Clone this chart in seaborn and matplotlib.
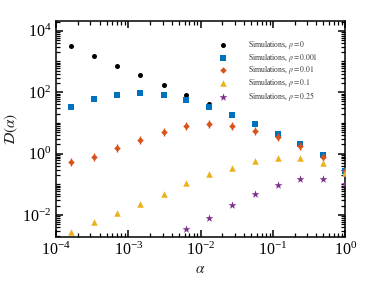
import matplotlib
matplotlib.use("Agg")
import matplotlib.pyplot as plt
import pandas as pd
import seaborn as sns
from matplotlib.ticker import FixedLocator, NullFormatter

# data
alpha = [1.6e-4, 3.4e-4, 7.0e-4, 1.45e-3, 3.1e-3, 6.3e-3, 1.3e-2,
         2.7e-2, 5.6e-2, 0.117, 0.24, 0.5, 1.0]
d_rho0 = [3200, 1500, 730, 360, 170, 83, 41, 20, 9.0, 4.3, 2.0, 0.85, 0.26]
d_rho0001 = [32, 59, 83, 95, 83, 54, 33, 18, 9.1, 4.2, 2.0, 0.87, 0.28]
d_rho001 = [0.54, 0.79, 1.55, 2.8, 5.0, 8.1, 8.9, 8.1, 5.5, 3.5, 1.8, 0.79, 0.27]
d_rho01 = [0.0028, 0.0059, 0.0117, 0.0236, 0.049, 0.112, 0.224, 0.35,
           0.56, 0.72, 0.72, 0.49, 0.23]
alpha_rho025 = alpha[5:]
d_rho025 = [0.0035, 0.0081, 0.0204, 0.048, 0.093, 0.151, 0.151, 0.105]

labels = [r"Simulations, $\rho = 0$", r"Simulations, $\rho = 0.001$",
          r"Simulations, $\rho = 0.01$", r"Simulations, $\rho = 0.1$",
          r"Simulations, $\rho = 0.25$"]
colors = ["black", "#0072BD", "#D95319", "#EDB120", "#7E2F8E"]
markers = ["o", "s", "D", "^", "*"]
sizes = [13, 13, 11, 22, 36]

series = [(alpha, d_rho0), (alpha, d_rho0001), (alpha, d_rho001),
          (alpha, d_rho01), (alpha_rho025, d_rho025)]

sns.set_style("ticks", {"xtick.direction": "in", "ytick.direction": "in"})
plt.rcParams["mathtext.fontset"] = "stix"
plt.rcParams["font.family"] = ["Liberation Serif", "DejaVu Serif"]
plt.rcParams["xtick.top"] = True
plt.rcParams["ytick.right"] = True

fig = plt.figure(figsize=(3.82, 2.87), dpi=100)
ax = fig.add_axes([0.1466, 0.174, 0.757, 0.754])

for (x, y), lab, c, m, s in zip(series, labels, colors, markers, sizes):
    df = pd.DataFrame({"alpha": x, "D": y})
    sns.scatterplot(data=df, x="alpha", y="D", ax=ax, color=c, marker=m,
                    s=s, linewidth=0, label=lab, zorder=3)
    if m == "D":
        # small vertical bar through the diamonds, as in the reference
        sns.scatterplot(data=df, x="alpha", y="D", ax=ax, color=c, marker="|",
                        s=30, linewidth=1.0, zorder=3, legend=False)

ax.set_xscale("log")
ax.set_yscale("log")
ax.set_xlim(1e-4, 1)
ax.set_ylim(10 ** -2.72, 10 ** 4.33)
ax.set_axisbelow(False)

# MATLAB-like log ticks: every decade, labels on even powers for y
x_minor = [k * 10.0 ** e for e in range(-4, 0) for k in range(2, 10)]
y_minor = [k * 10.0 ** e for e in range(-3, 5) for k in range(1, 10)
           if not (k == 1 and e % 2 == 0)]
ax.xaxis.set_major_locator(FixedLocator([1e-4, 1e-3, 1e-2, 1e-1, 1e0]))
ax.xaxis.set_minor_locator(FixedLocator(x_minor))
ax.yaxis.set_major_locator(FixedLocator([1e-2, 1e0, 1e2, 1e4]))
ax.yaxis.set_minor_locator(FixedLocator(y_minor))
ax.xaxis.set_minor_formatter(NullFormatter())
ax.yaxis.set_minor_formatter(NullFormatter())

ax.tick_params(which="both", direction="in", top=True, right=True,
               colors="black", labelsize=11.5)
ax.tick_params(which="major", length=5, width=1.1)
ax.tick_params(which="minor", length=3, width=0.9)
for sp in ax.spines.values():
    sp.set_linewidth(1.3)
    sp.set_color("#262626")

ax.set_xlabel(r"$\alpha$", fontsize=11, color="#262626", labelpad=3)
ax.set_ylabel(r"$\mathcal{D}(\alpha)$", fontsize=11, color="#262626", labelpad=1)

leg = ax.legend(loc="upper right", bbox_to_anchor=(0.915, 0.93), frameon=False,
                prop={"size": 5.5}, handletextpad=2.2, labelspacing=0.1,
                markerscale=1.0, borderaxespad=0.0)
for t in leg.get_texts():
    t.set_color("#333333")

fig.savefig("out.png", dpi=100)
